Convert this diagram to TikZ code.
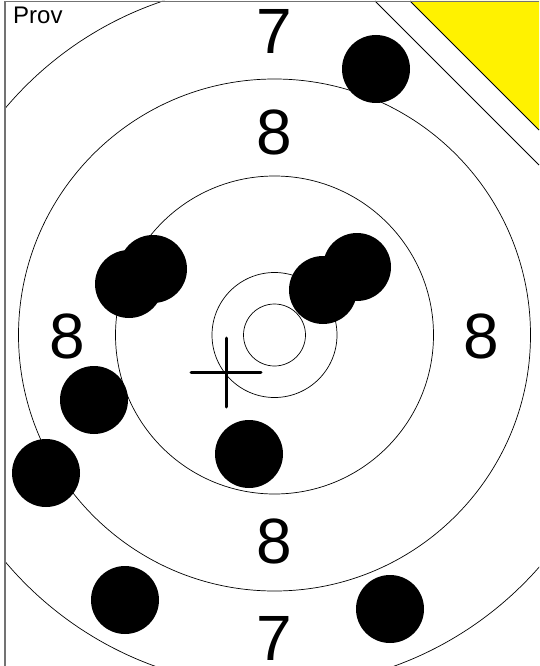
\documentclass[tikz,border=0pt]{standalone}
\usepackage{fontspec}
\setmainfont{Liberation Sans}
\usetikzlibrary{positioning}
\newcommand{\scorefont}{\fontsize{64}{64}\selectfont}

\begin{document}
\begin{tikzpicture}[
  x=1pt, y=-1pt,
  ring/.style={draw, line width=0.7pt},
  hole/.style={circle, fill=black, minimum size=68pt, inner sep=0pt},
  score/.style={font=\scorefont, inner sep=0pt},
  frame/.style={draw=black!55, line width=1.5pt},
  cross/.style={line width=3pt, line cap=round}
]
  \useasboundingbox (0,0) rectangle (539,666);
  \coordinate (bull) at (274.5,335);

  % rings, cut off by the paper edge
  \begin{scope}
    \clip (5,1) -- (375,1) -- (539,165) -- (539,666) -- (5,666) -- cycle;
    \foreach \r in {31,62.5,159,256,352}
      \draw[ring] (bull) circle (\r);
  \end{scope}

  % paper edge and marker
  \fill[yellow] (410,1) -- (539,130) -- (539,1) -- cycle;
  \draw[line width=0.8pt] (410,1) -- (539,130);
  \draw[line width=0.8pt] (375,1) -- (539,165);
  \draw[frame] (5,666) -- (5,1.5) -- (539,1.5);

  \node[anchor=base west, font=\fontsize{24}{24}\selectfont, inner sep=0pt] (prov) at (13,24) {Prov};

  % scores
  \node[score] (top7) at (274,31) {7};
  \node[score] (top8) at (274,132) {8};
  \node[score] (left8) at (67,336) {8};
  \node[score] (right8) at (481,336) {8};
  \node[score] (bot8) at (274,541) {8};
  \node[score] (bot7) at (274,638) {7};

  % shots
  \node[hole] (h1) at (376,69) {};
  \node[hole] (h2) at (153,269) {};
  \node[hole] (h3) at (129,284) {};
  \node[hole] (h4) at (357,267) {};
  \node[hole] (h5) at (323,290) {};
  \node[hole] (h6) at (94,400) {};
  \node[hole] (h7) at (46,473) {};
  \node[hole] (h8) at (249,454) {};
  \node[hole] (h9) at (125,600) {};
  \node[hole] (h10) at (390,609) {};

  % mean point of impact
  \coordinate (mpi) at (226,372);
  \draw[cross] ([xshift=-35pt]mpi) -- ([xshift=35pt]mpi);
  \draw[cross] ([yshift=-35pt]mpi) -- ([yshift=34pt]mpi);
\end{tikzpicture}
\end{document}
